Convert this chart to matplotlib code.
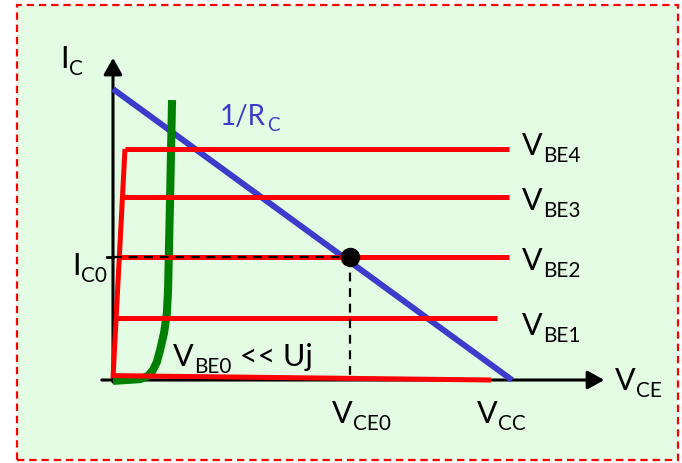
import matplotlib
matplotlib.use("Agg")
import matplotlib.pyplot as plt
from matplotlib.patches import Rectangle

plt.rcParams["font.family"] = ["Lato", "DejaVu Sans"]

# Diagram values (V_CE in units where V_CC = 10, I_C where V_CC/R_C = 10)
v_cc = 10.0
i_max = 10.0
v_ce0 = 5.95

# Output characteristic levels, V_BE4 .. V_BE1
base_subs = ["BE4", "BE3", "BE2", "BE1"]
base_levels = [7.94, 6.29, 4.23, 2.13]
base_ends = [9.92, 9.92, 9.92, 9.62]
sat_top_v = 0.30  # knee of the saturation line at V_BE4

# bottom (cut-off) line, V_BE0
cutoff_v = [0.0, 9.47]
cutoff_i = [0.15, 0.0]

# input diode curve (green)
diode_v = [0.0, 0.68, 0.88, 1.00, 1.10, 1.18, 1.28, 1.35, 1.38, 1.43, 1.48]
diode_i = [-0.03, 0.03, 0.14, 0.34, 0.62, 1.03, 1.62, 2.30, 3.09, 6.19, 9.62]

i_c0 = base_levels[2]

red = "#ff0000"
blue = "#3b3bcc"
green = "#008000"

fig = plt.figure(figsize=(6.82, 4.63), dpi=100)
fig.patch.set_facecolor("white")

ax = fig.add_axes([0, 0, 1, 1])
ax.set_xlim(-113 / 39.9, 569 / 39.9)
ax.set_ylim(-83 / 29.1, 380 / 29.1)
ax.axis("off")
ax.add_patch(Rectangle((17 / 682, 3 / 463), 661 / 682, 455 / 463,
                       transform=fig.transFigure, facecolor="#e3fce3",
                       edgecolor=red, linewidth=1.6, linestyle=(0, (3.3, 2.2)),
                       zorder=0, clip_on=False))


def sub_label(x, y, main, sub, size=22, color="black", tail=None):
    # main text + lowered subscript (+ optional trailing text)
    t = ax.text(x, y, main, fontsize=size, color=color, ha="left", va="baseline")
    s = ax.annotate(sub, xy=(1, y), xycoords=(t, "data"), xytext=(0.5, -0.22 * size),
                    textcoords="offset points", fontsize=0.68 * size, color=color,
                    ha="left", va="baseline")
    if tail:
        ax.annotate(tail, xy=(1, y), xycoords=(s, "data"), xytext=(0, 0),
                    textcoords="offset points", fontsize=size, color=color,
                    ha="left", va="baseline")


# axes with arrows
arrow = dict(arrowstyle="-|>,head_length=0.5,head_width=0.28", color="black",
             lw=2.2, shrinkA=0, shrinkB=0, mutation_scale=20)
ax.annotate("", xy=(0, 11.07), xytext=(0, -0.07), arrowprops=arrow, zorder=2)
ax.annotate("", xy=(12.31, 0), xytext=(-0.28, 0), arrowprops=arrow, zorder=2)
ax.plot([-0.15, 0], [i_c0, i_c0], color="black", lw=2, zorder=2)

# load line 1/R_C
ax.plot([0, v_cc], [i_max, 0], color=blue, lw=4.3, solid_capstyle="butt", zorder=3)

# diode curve
ax.plot(diode_v, diode_i, color=green, lw=5.8, solid_capstyle="butt", zorder=4)

# output characteristics
ax.plot([0, sat_top_v], [0.07, base_levels[0]], color=red, lw=3.6,
        solid_capstyle="butt", zorder=5)
for lvl, end in zip(base_levels, base_ends):
    start = sat_top_v * lvl / base_levels[0]
    ax.plot([start, end], [lvl, lvl], color=red, lw=3.6, solid_capstyle="butt", zorder=5)
ax.plot(cutoff_v, cutoff_i, color=red, lw=3.6, solid_capstyle="butt", zorder=5)

# operating point
ax.plot([0, v_ce0], [i_c0, i_c0], color="black", lw=1.6, ls=(0, (4, 3)), zorder=6)
ax.plot([v_ce0, v_ce0], [i_c0, 0], color="black", lw=1.6, ls=(0, (4, 3)), zorder=6)
ax.plot([v_ce0], [i_c0], "o", color="black", ms=13, zorder=7)

# labels
label_y = [7.73, 5.84, 3.78, 1.55]
for sub, y in zip(base_subs, label_y):
    sub_label(10.25, y, "V", sub)
sub_label(12.58, -0.34, "V", "CE")
sub_label(9.12, -1.48, "V", "CC")
sub_label(5.49, -1.48, "V", "CE0")
sub_label(1.50, 0.48, "V", "BE0", tail=" << Uj")
sub_label(-1.03, 3.61, "I", "C0")
sub_label(-1.33, 10.72, "I", "C")
sub_label(2.68, 8.76, "1/R", "C", size=20, color=blue)

fig.savefig("out.png", dpi=100)
plt.close(fig)
